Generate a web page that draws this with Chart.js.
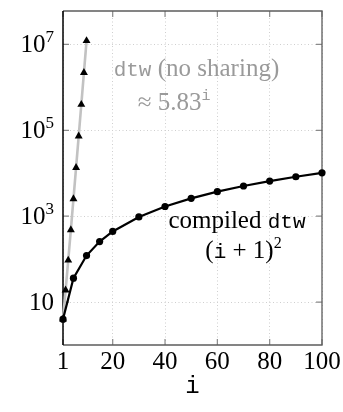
<!DOCTYPE html>
<html>
<head>
<meta charset="utf-8">
<script src="https://cdn.jsdelivr.net/npm/chart.js@4.4.1/dist/chart.umd.min.js"></script>
<style>
  body { margin: 0; background: #fff; }
  canvas { display: block; }
</style>
</head>
<body>
<canvas id="callsChart" width="343" height="412"></canvas>
<script>
// number of calls for input size i, recursive dtw without sharing
const iNoSharing = [1, 2, 3, 4, 5, 6, 7, 8, 9, 10];
const callsNoSharing = [4, 19, 94, 481, 2524, 13483, 72958, 398593, 2193844, 12146179];

// number of calls for the compiled version
const iCompiled = [1, 5, 10, 15, 20, 30, 40, 50, 60, 70, 80, 90, 100];
const callsCompiled = [4, 36, 121, 256, 441, 961, 1681, 2601, 3721, 5041, 6561, 8281, 10201];

const xTicks = [1, 20, 40, 60, 80, 100];
const yTickExps = [1, 3, 5, 7];

const serif = '"Liberation Serif", serif';
const mono = '"Liberation Mono", monospace';
const textGray = '#9a9a9a';

// curve labels: runs of text, placed in data coordinates (baseline centre)
const curveLabels = [
    { x: 52, y: 10 ** 6.27, color: textGray, runs: [
        { text: 'dtw', font: mono, size: 21 },
        { text: ' (no sharing)', font: serif, size: 25 }
    ]},
    { x: 43.5, y: 10 ** 5.47, color: textGray, runs: [
        { text: '\u2248 5.83', font: serif, size: 25 },
        { text: 'i', font: mono, size: 15, rise: 10 }
    ]},
    { x: 67.5, y: 10 ** 2.73, color: '#000', runs: [
        { text: 'compiled ', font: serif, size: 25 },
        { text: 'dtw', font: mono, size: 21 }
    ]},
    { x: 70, y: 10 ** 2.03, color: '#000', runs: [
        { text: '(', font: serif, size: 25 },
        { text: 'i', font: mono, size: 21 },
        { text: ' + 1)', font: serif, size: 25 },
        { text: '2', font: serif, size: 16, rise: 10 }
    ]}
];

function toPoints(xs, ys) {
    return xs.map((x, k) => ({ x: x, y: ys[k] }));
}

// draw a line of mixed-font text centred on cx, baseline at by
function drawRuns(ctx, runs, cx, by, align) {
    let total = 0;
    runs.forEach(r => {
        ctx.font = `${r.size}px ${r.font}`;
        r.w = ctx.measureText(r.text).width;
        total += r.w;
    });
    let x = align === 'right' ? cx - total : cx - total / 2;
    ctx.textAlign = 'left';
    ctx.textBaseline = 'alphabetic';
    runs.forEach(r => {
        ctx.font = `${r.size}px ${r.font}`;
        ctx.fillText(r.text, x, by - (r.rise || 0));
        x += r.w;
    });
}

// frame, inner tick marks, tick labels and text
const axisDecor = {
    id: 'axisDecor',
    beforeDatasetsDraw(chart) {
        const { ctx, chartArea: a, scales: { x, y } } = chart;
        ctx.save();
        // tick marks pointing inwards
        ctx.strokeStyle = '#8a8a8a';
        ctx.lineWidth = 1.2;
        ctx.beginPath();
        xTicks.forEach(v => {
            const px = x.getPixelForValue(v);
            ctx.moveTo(px, a.bottom); ctx.lineTo(px, a.bottom - 6);
            ctx.moveTo(px, a.top); ctx.lineTo(px, a.top + 6);
        });
        yTickExps.forEach(e => {
            const py = y.getPixelForValue(10 ** e);
            ctx.moveTo(a.left, py); ctx.lineTo(a.left + 6, py);
            ctx.moveTo(a.right, py); ctx.lineTo(a.right - 6, py);
        });
        ctx.stroke();
        // box
        ctx.strokeStyle = '#5c5c5c';
        ctx.lineWidth = 1.3;
        ctx.beginPath();
        ctx.moveTo(a.left, a.top); ctx.lineTo(a.right, a.top);
        ctx.lineTo(a.right, a.bottom); ctx.lineTo(a.left, a.bottom);
        ctx.stroke();
        ctx.strokeStyle = '#000';
        ctx.lineWidth = 1.5;
        ctx.beginPath();
        ctx.moveTo(a.left, a.top); ctx.lineTo(a.left, a.bottom);
        ctx.stroke();
        ctx.restore();
    },
    afterDraw(chart) {
        const { ctx, chartArea: a, scales: { x, y } } = chart;
        ctx.save();
        ctx.fillStyle = '#000';
        xTicks.forEach(v => {
            drawRuns(ctx, [{ text: String(v), font: serif, size: 25 }],
                x.getPixelForValue(v), a.bottom + 24);
        });
        yTickExps.forEach(e => {
            const runs = [{ text: '10', font: serif, size: 25 }];
            if (e !== 1) runs.push({ text: String(e), font: serif, size: 17, rise: 10 });
            drawRuns(ctx, runs, a.left - 9, y.getPixelForValue(10 ** e) + 8, 'right');
        });
        // axis title
        drawRuns(ctx, [{ text: 'i', font: mono, size: 24 }], (a.left + a.right) / 2, 393);

        curveLabels.forEach(l => {
            ctx.fillStyle = l.color;
            drawRuns(ctx, l.runs, x.getPixelForValue(l.x), y.getPixelForValue(l.y));
        });
        ctx.restore();
    }
};

new Chart(document.getElementById('callsChart'), {
    type: 'scatter',
    data: {
        datasets: [
            {
                label: 'compiled dtw',
                data: toPoints(iCompiled, callsCompiled),
                showLine: true,
                borderColor: '#000',
                borderWidth: 2.2,
                pointStyle: 'circle',
                pointRadius: 3.6,
                pointBackgroundColor: '#000',
                pointBorderWidth: 0,
                clip: false
            },
            {
                label: 'dtw (no sharing)',
                data: toPoints(iNoSharing, callsNoSharing),
                showLine: true,
                borderColor: '#c2c2c2',
                borderWidth: 2.6,
                pointStyle: 'triangle',
                pointRadius: 4.6,
                pointBackgroundColor: '#000',
                pointBorderWidth: 0,
                clip: false
            }
        ]
    },
    options: {
        responsive: false,
        animation: false,
        events: [],
        layout: { padding: { left: 63, top: 11, right: 21, bottom: 67 } },
        plugins: { legend: { display: false }, tooltip: { enabled: false } },
        scales: {
            x: {
                type: 'linear',
                min: 1,
                max: 100,
                afterBuildTicks: axis => { axis.ticks = xTicks.map(v => ({ value: v })); },
                ticks: { display: false },
                grid: { color: '#cfcfcf', lineWidth: 1, drawTicks: false },
                border: { display: false, dash: [1, 2.5] }
            },
            y: {
                type: 'logarithmic',
                min: 1,
                max: 6e7,
                afterBuildTicks: axis => { axis.ticks = yTickExps.map(e => ({ value: 10 ** e })); },
                ticks: { display: false },
                grid: { color: '#cfcfcf', lineWidth: 1, drawTicks: false },
                border: { display: false, dash: [1, 2.5] }
            }
        }
    },
    plugins: [axisDecor]
});
</script>
</body>
</html>
